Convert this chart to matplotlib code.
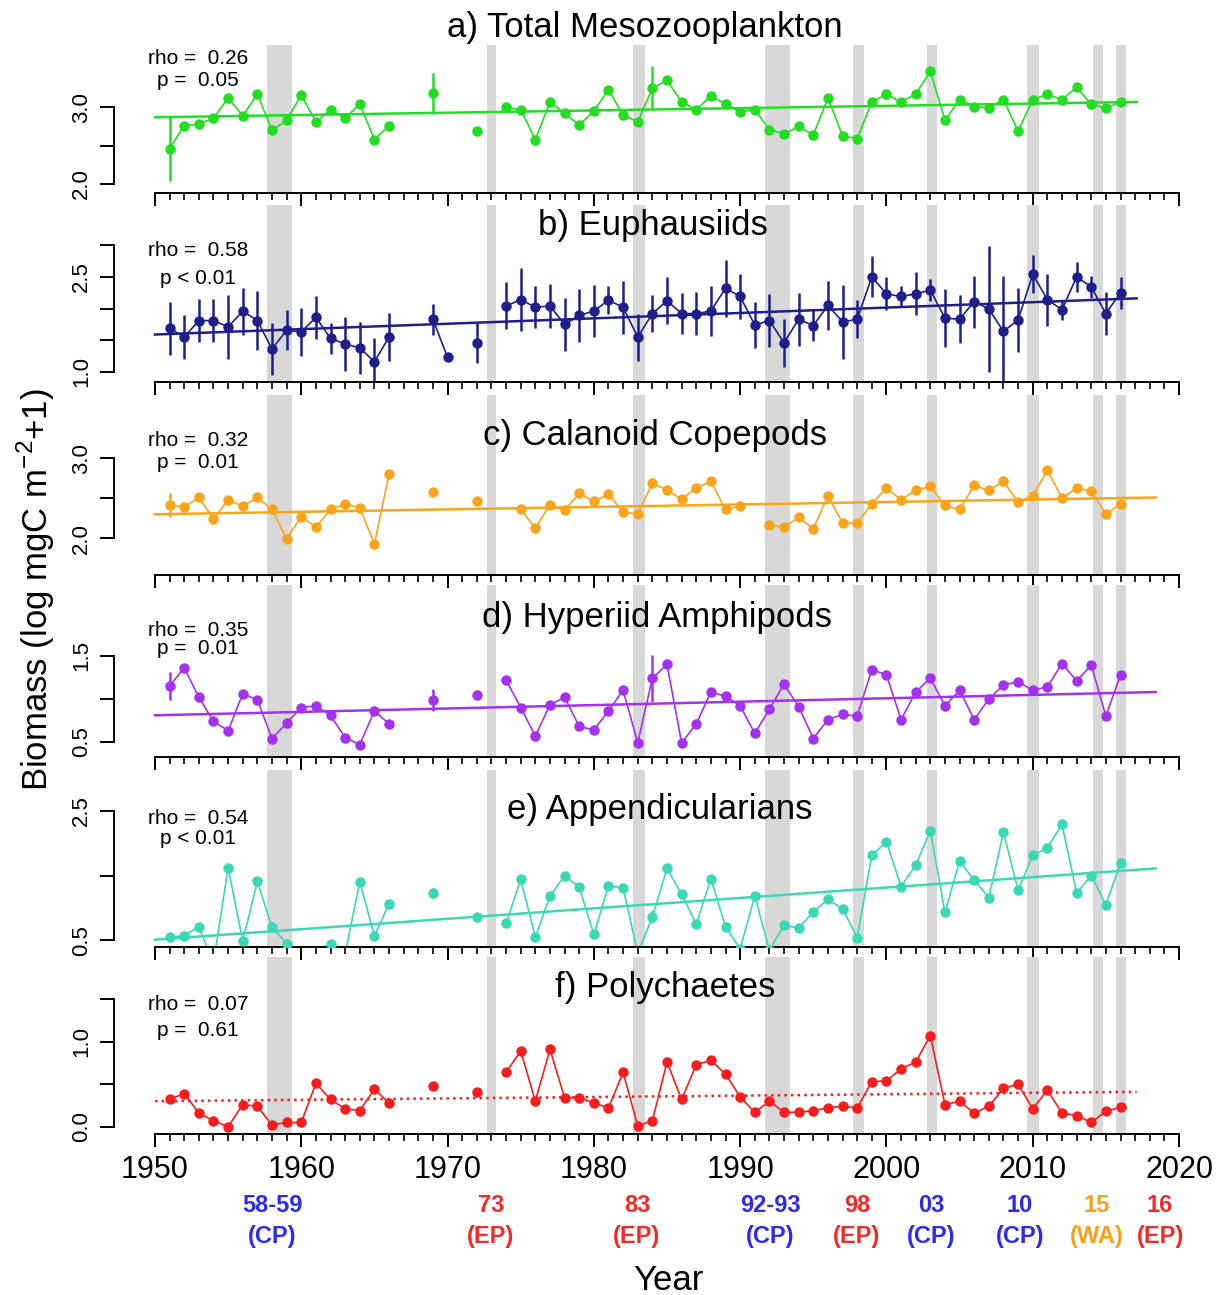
import numpy as np
import pandas as pd
import matplotlib
matplotlib.use("Agg")
import matplotlib.pyplot as plt

plt.rcParams['font.family'] = ['Liberation Sans', 'DejaVu Sans']
plt.rcParams['mathtext.fontset'] = 'custom'
plt.rcParams['mathtext.rm'] = 'Liberation Sans'

# ---- data ----
early = list(range(1951, 1967))
late = list(range(1974, 2017))
base_years = early + [1969, 1972] + late

years_a = base_years
mesozoo = [2.46, 2.76, 2.78, 2.86, 3.12, 2.89, 3.17, 2.70, 2.83, 3.16, 2.81, 2.97, 2.86, 3.04, 2.58, 2.76,
           3.18, 2.69,
           3.00, 2.97, 2.58, 3.07, 2.92, 2.77, 2.95, 3.23, 2.90, 2.81, 3.25, 3.35, 3.07, 2.97, 3.15, 3.04,
           2.94, 2.97, 2.71, 2.65, 2.75, 2.64, 3.12, 2.63, 2.59, 3.07, 3.17, 3.07, 3.17, 3.47, 2.83, 3.10,
           3.01, 2.99, 3.10, 2.69, 3.10, 3.17, 3.10, 3.26, 3.04, 2.99, 3.07]
err_years_a = [1951, 1969, 1984]
err_a = [0.42, 0.27, 0.29]

years_b = early + [1969, 1970, 1972] + late
euphaus = [1.69, 1.55, 1.81, 1.81, 1.71, 1.96, 1.81, 1.36, 1.66, 1.63, 1.86, 1.53, 1.44, 1.38, 1.16, 1.55,
           1.83, 1.23, 1.46,
           2.04, 2.14, 2.02, 2.04, 1.75, 1.89, 1.96, 2.13, 2.02, 1.55, 1.92, 2.12, 1.92, 1.92, 1.96, 2.32,
           2.19, 1.74, 1.81, 1.46, 1.83, 1.73, 2.05, 1.79, 1.83, 2.50, 2.23, 2.19, 2.23, 2.29, 1.85, 1.83,
           2.11, 1.99, 1.64, 1.82, 2.54, 2.14, 1.98, 2.50, 2.34, 1.92, 2.25]
err_b = [0.42, 0.34, 0.34, 0.34, 0.51, 0.37, 0.46, 0.41, 0.32, 0.38, 0.34, 0.24, 0.42, 0.41, 0.37, 0.38,
         0.24, 0.0, 0.32,
         0.37, 0.50, 0.33, 0.34, 0.42, 0.42, 0.41, 0.22, 0.42, 0.37, 0.29, 0.37, 0.32, 0.34, 0.39, 0.45,
         0.36, 0.36, 0.42, 0.38, 0.42, 0.24, 0.39, 0.58, 0.30, 0.32, 0.26, 0.16, 0.34, 0.17, 0.45, 0.38,
         0.41, 0.99, 0.88, 0.50, 0.30, 0.41, 0.16, 0.24, 0.18, 0.34, 0.25]

years_c = early + [1969, 1972] + list(range(1975, 1991)) + list(range(1992, 2017))
calanoid = [2.42, 2.39, 2.51, 2.24, 2.48, 2.40, 2.51, 2.36, 1.99, 2.27, 2.14, 2.36, 2.43, 2.38, 1.93, 2.80,
            2.58, 2.46,
            2.36, 2.13, 2.42, 2.35, 2.56, 2.46, 2.55, 2.33, 2.30, 2.69, 2.60, 2.49, 2.63, 2.71, 2.36, 2.40,
            2.17, 2.14, 2.26, 2.12, 2.53, 2.19, 2.19, 2.43, 2.63, 2.48, 2.60, 2.65, 2.41, 2.36, 2.66, 2.60,
            2.71, 2.45, 2.53, 2.85, 2.50, 2.63, 2.59, 2.30, 2.43]
err_years_c = [1951, 1969, 1984]
err_c = [0.15, 0.05, 0.06]

years_d = base_years
hyperiid = [1.15, 1.36, 1.02, 0.74, 0.63, 1.06, 0.99, 0.54, 0.72, 0.90, 0.92, 0.81, 0.55, 0.47, 0.86, 0.71,
            0.99, 1.05,
            1.22, 0.90, 0.57, 0.93, 1.02, 0.68, 0.64, 0.86, 1.10, 0.49, 1.24, 1.40, 0.49, 0.71, 1.08, 1.03,
            0.92, 0.60, 0.88, 1.17, 0.91, 0.54, 0.76, 0.82, 0.80, 1.34, 1.28, 0.76, 1.08, 1.24, 0.92, 1.10,
            0.76, 1.00, 1.16, 1.20, 1.10, 1.14, 1.41, 1.21, 1.39, 0.80, 1.28]
err_years_d = [1951, 1969, 1984]
err_d = [0.16, 0.13, 0.27]

years_e = base_years
appendic = [0.55, 0.57, 0.71, 0.15, 1.62, 0.49, 1.41, 0.70, 0.45, 0.25, 0.30, 0.44, 0.30, 1.40, 0.57, 1.06,
            1.23, 0.86,
            0.76, 1.44, 0.55, 1.18, 1.50, 1.32, 0.59, 1.34, 1.31, 0.30, 0.86, 1.61, 1.21, 0.75, 1.45, 0.71,
            0.37, 1.18, 0.35, 0.73, 0.69, 0.94, 1.13, 0.99, 0.54, 1.81, 2.02, 1.33, 1.66, 2.19, 0.93, 1.72,
            1.43, 1.16, 2.17, 1.27, 1.81, 1.93, 2.29, 1.23, 1.50, 1.05, 1.69]
err_years_e = [1951, 1969, 1984]
err_e = [0.05, 0.08, 0.10]

years_f = base_years
polych = [0.32, 0.39, 0.16, 0.07, 0.00, 0.26, 0.24, 0.02, 0.05, 0.05, 0.51, 0.32, 0.21, 0.19, 0.44, 0.28,
          0.48, 0.41,
          0.64, 0.89, 0.30, 0.91, 0.34, 0.34, 0.28, 0.22, 0.64, 0.01, 0.07, 0.76, 0.32, 0.73, 0.78, 0.62,
          0.35, 0.17, 0.30, 0.17, 0.17, 0.19, 0.22, 0.24, 0.22, 0.53, 0.54, 0.68, 0.76, 1.07, 0.26, 0.30,
          0.16, 0.24, 0.45, 0.50, 0.21, 0.43, 0.16, 0.13, 0.05, 0.18, 0.23]

# trend lines: (start year, end year, start value, end value)
trend_a = (1950, 2017.1, 2.87, 3.07)
trend_b = (1950, 2017.1, 1.59, 2.16)
trend_c = (1950, 2018.4, 2.30, 2.51)
trend_d = (1950, 2018.4, 0.81, 1.08)
trend_e = (1950, 2018.4, 0.51, 1.61)
trend_f = (1950, 2017.1, 0.30, 0.41)

titles = ["a) Total Mesozooplankton", "b) Euphausiids", "c) Calanoid Copepods",
          "d) Hyperiid Amphipods", "e) Appendicularians", "f) Polychaetes"]
rho_text = ["rho =  0.26", "rho =  0.58", "rho =  0.32", "rho =  0.35", "rho =  0.54", "rho =  0.07"]
p_text = ["p =  0.05", "p < 0.01", "p =  0.01", "p =  0.01", "p < 0.01", "p =  0.61"]

# El Nino / warm events (shaded)
event_spans = [(1957.65, 1959.4), (1972.7, 1973.3), (1982.7, 1983.5), (1991.7, 1993.4),
               (1997.7, 1998.5), (2002.8, 2003.45), (2009.6, 2010.4), (2014.15, 2014.8),
               (2015.7, 2016.4)]
event_names = ["58-59", "73", "83", "92-93", "98", "03", "10", "15", "16"]
event_types = ["(CP)", "(EP)", "(EP)", "(CP)", "(EP)", "(CP)", "(CP)", "(WA)", "(EP)"]
type_colors = {"(CP)": "#2b2bef", "(EP)": "#f22a2a", "(WA)": "#f7a11a"}

# ---- layout (pixels of the 1217x1295 figure) ----
W, H = 1217, 1295
fig = plt.figure(figsize=(W / 100, H / 100), dpi=100)

panels = [
    dict(years=years_a, vals=mesozoo, ey=err_years_a, err=err_a, trend=trend_a, color="#22dd22",
         box=(45, 193), ylim=(1.883, 3.812), ticks=[2.0, 2.5, 3.0], labels=["2.0", "", "3.0"],
         title_xy=(645, 27), rho_y=(58, 80)),
    dict(years=years_b, vals=euphaus, ey=years_b, err=err_b, trend=trend_b, color="#1f1f8c",
         box=(205, 382), ylim=(0.842, 3.631), ticks=[1.0, 1.5, 2.0, 2.5, 3.0],
         labels=["1.0", "", "", "2.5", ""], title_xy=(653, 225), rho_y=(251, 279)),
    dict(years=years_c, vals=calanoid, ey=err_years_c, err=err_c, trend=trend_c, color="#f9a51b",
         box=(395, 575), ylim=(1.541, 3.791), ticks=[2.0, 2.5, 3.0], labels=["2.0", "", "3.0"],
         title_xy=(655, 435), rho_y=(440, 463)),
    dict(years=years_d, vals=hyperiid, ey=err_years_d, err=err_d, trend=trend_d, color="#a431ee",
         box=(585, 757), ylim=(0.326, 2.322), ticks=[0.5, 1.0, 1.5], labels=["0.5", "", "1.5"],
         title_xy=(657, 617), rho_y=(630, 649)),
    dict(years=years_e, vals=appendic, ey=err_years_e, err=err_e, trend=trend_e, color="#3bd8b5",
         box=(770, 947), ylim=(0.396, 3.130), ticks=[0.5, 1.5, 2.5], labels=["0.5", "", "2.5"],
         title_xy=(660, 810), rho_y=(819, 838)),
    dict(years=years_f, vals=polych, ey=[], err=[], trend=trend_f, color="#f51d1d",
         box=(957, 1134), ylim=(-0.086, 1.996), ticks=[0.0, 0.5, 1.0, 1.5], labels=["0.0", "", "1.0", ""],
         title_xy=(665, 988), rho_y=(1005, 1030)),
]

all_years = np.arange(1951, 2017)
axes = []
for i, p in enumerate(panels):
    top, bottom = p["box"]
    ax = fig.add_axes([114 / W, 1 - bottom / H, (1220 - 114) / W, (bottom - top) / H])
    axes.append(ax)
    ax.set_xlim(1947.2, 2022.8)
    ax.set_ylim(*p["ylim"])
    ax.patch.set_alpha(0)

    for s, e in event_spans:
        ax.axvspan(s, e, color="#d8d8d8", lw=0, zorder=0)

    c = p["color"]
    ser = pd.Series(p["vals"], index=p["years"]).reindex(all_years)
    ax.plot(all_years, ser.values, "-", color=c, lw=1.2, zorder=2)
    ax.plot(p["years"], p["vals"], "o", color=c, ms=7.5, mec="none", zorder=3)

    if len(p["ey"]):
        ev = pd.Series(p["vals"], index=p["years"]).loc[p["ey"]].values
        er = np.array(p["err"])
        ax.vlines(p["ey"], ev - er, ev + er, color=c, lw=1.8, zorder=2)

    x0, x1, y0, y1 = p["trend"]
    ax.plot([x0, x1], [y0, y1], color=c, lw=1.8, ls=":" if i == 5 else "-", zorder=2)

    for side in ["top", "right"]:
        ax.spines[side].set_visible(False)
    for side in ["left", "bottom"]:
        ax.spines[side].set_linewidth(1.4)
    ax.spines["bottom"].set_bounds(1950, 2020)
    ax.spines["left"].set_bounds(p["ticks"][0], p["ticks"][-1])

    ax.set_xticks(np.arange(1950, 2021, 10))
    ax.set_xticks(np.arange(1950, 2021, 1), minor=True)
    ax.tick_params(axis="x", which="major", length=9, width=1.4, labelsize=22, pad=6)
    ax.tick_params(axis="x", which="minor", length=5, width=1.2)
    if i < 5:
        ax.tick_params(axis="x", labelbottom=False)

    ax.set_yticks(p["ticks"])
    ax.set_yticklabels(p["labels"])
    ax.tick_params(axis="y", length=10, width=1.4, labelsize=16, pad=6)
    for lab in ax.get_yticklabels():
        lab.set_rotation(90)
        lab.set_va("center")

    tx, ty = p["title_xy"]
    fig.text(tx / W, 1 - ty / H, titles[i], fontsize=25, ha="center", va="center")
    ry, py = p["rho_y"]
    fig.text(198 / W, 1 - ry / H, rho_text[i], fontsize=15, ha="center", va="center")
    fig.text(198 / W, 1 - py / H, p_text[i], fontsize=15, ha="center", va="center")

# event labels under the bottom axis
label_x = [272, 491, 637, 770, 857, 931, 1020, 1097, 1160]
for x, name, kind in zip(label_x, event_names, event_types):
    col = type_colors[kind]
    fig.text(x / W, 1 - 1205 / H, name, color=col, fontsize=17, fontweight="bold", ha="center", va="center")
    fig.text(x / W, 1 - 1237 / H, kind, color=col, fontsize=17, fontweight="bold", ha="center", va="center")

fig.text(36 / W, 1 - 590 / H, "Biomass (log mgC m$^{-2}$+1)", rotation=90, fontsize=25,
         ha="center", va="center")
fig.text(668 / W, 1 - 1280 / H, "Year", fontsize=25, ha="center", va="center")

fig.savefig("out.png", dpi=100)
